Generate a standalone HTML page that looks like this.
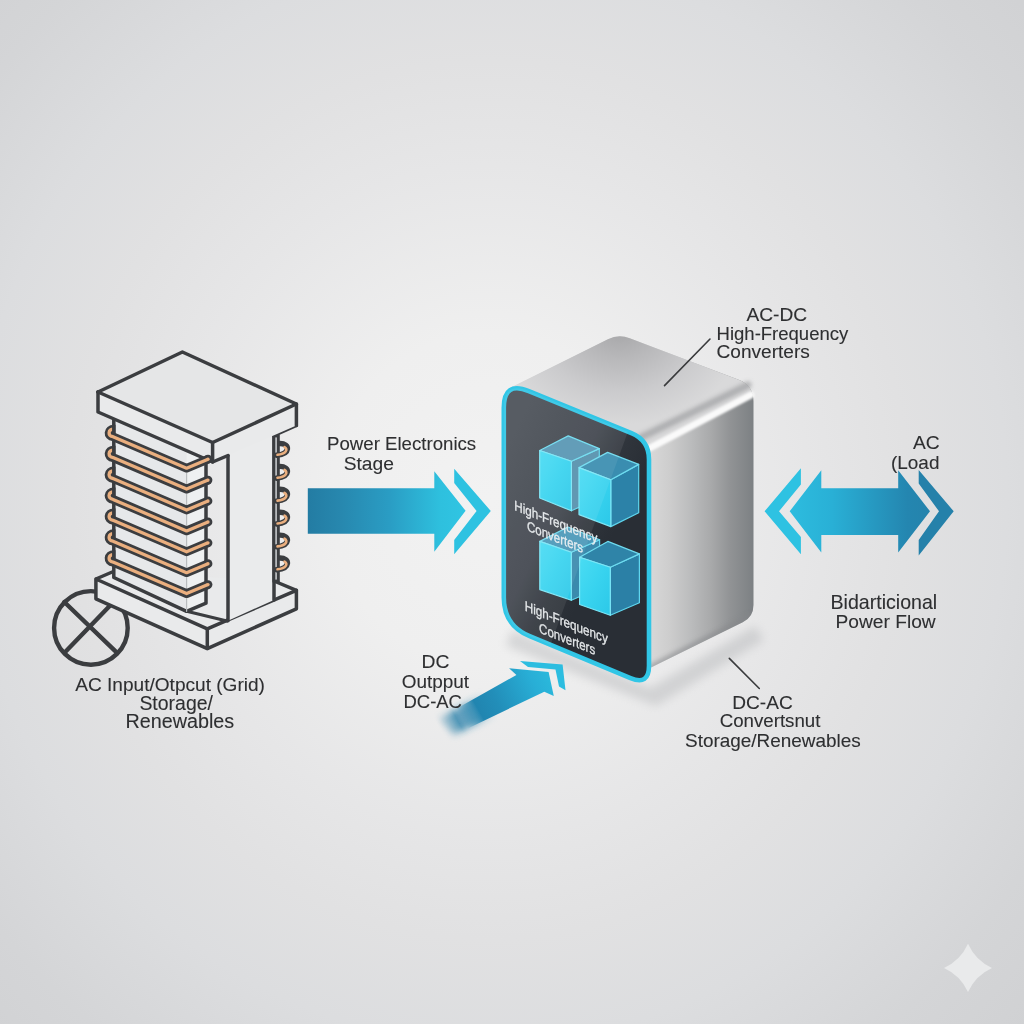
<!DOCTYPE html>
<html><head><meta charset="utf-8"><title>Power Electronics Diagram</title>
<style>html,body{margin:0;padding:0;background:#e2e3e4;}svg{display:block;will-change:transform;}text{font-family:"Liberation Sans",sans-serif;}</style>
</head><body>
<svg width="1024" height="1024" viewBox="0 0 1024 1024"><defs>
<radialGradient id="bg" gradientUnits="userSpaceOnUse" cx="490" cy="500" r="760" gradientTransform="translate(490 500) scale(1 1.05) translate(-490 -500)">
<stop offset="0" stop-color="#f2f2f2"/><stop offset="0.21" stop-color="#efefef"/><stop offset="0.42" stop-color="#e6e6e7"/><stop offset="0.55" stop-color="#e1e1e2"/><stop offset="0.68" stop-color="#dcdddf"/><stop offset="0.84" stop-color="#d4d5d7"/><stop offset="1" stop-color="#cfd0d2"/></radialGradient>
<linearGradient id="ar1" x1="0" y1="0" x2="1" y2="0"><stop offset="0" stop-color="#237ca3"/><stop offset="0.2" stop-color="#2787ae"/><stop offset="0.52" stop-color="#2a9dc4"/><stop offset="0.84" stop-color="#2ec0de"/><stop offset="1" stop-color="#30c5e3"/></linearGradient>
<linearGradient id="ar2" gradientUnits="userSpaceOnUse" x1="765" y1="0" x2="955" y2="0"><stop offset="0" stop-color="#2fc4e4"/><stop offset="0.35" stop-color="#29b0d6"/><stop offset="0.75" stop-color="#2486b0"/><stop offset="1" stop-color="#2580a8"/></linearGradient>
<linearGradient id="ar3" gradientUnits="userSpaceOnUse" x1="450" y1="725" x2="555" y2="675"><stop offset="0" stop-color="#1f77a2"/><stop offset="0.45" stop-color="#228eb9"/><stop offset="0.8" stop-color="#28aed6"/><stop offset="1" stop-color="#2bbbdd"/></linearGradient>
<linearGradient id="tailfade" gradientUnits="userSpaceOnUse" x1="440" y1="730" x2="490" y2="702"><stop offset="0" stop-color="#fff" stop-opacity="0"/><stop offset="0.35" stop-color="#fff" stop-opacity="0.75"/><stop offset="0.6" stop-color="#fff" stop-opacity="0.6"/><stop offset="1" stop-color="#fff" stop-opacity="0"/></linearGradient>
<mask id="tailmask"><rect x="0" y="0" width="1024" height="1024" fill="url(#tailfade)"/></mask>
<linearGradient id="tailfade2" gradientUnits="userSpaceOnUse" x1="462" y1="718" x2="478" y2="709"><stop offset="0" stop-color="#fff" stop-opacity="0"/><stop offset="1" stop-color="#fff" stop-opacity="1"/></linearGradient>
<mask id="tailmask2"><rect x="0" y="0" width="1024" height="1024" fill="url(#tailfade2)"/></mask>
<radialGradient id="topface" gradientUnits="userSpaceOnUse" cx="620" cy="330" r="95" gradientTransform="translate(620 330) scale(1.3 1) translate(-620 -330)"><stop offset="0" stop-color="#a6a6a8"/><stop offset="0.3" stop-color="#b8b8ba"/><stop offset="0.65" stop-color="#cbcbcd"/><stop offset="1" stop-color="#d9d9da"/></radialGradient>
<linearGradient id="rightface" gradientUnits="userSpaceOnUse" x1="650" y1="0" x2="754" y2="0"><stop offset="0" stop-color="#d8d8d8"/><stop offset="0.19" stop-color="#cdcdcd"/><stop offset="0.38" stop-color="#bcbdbe"/><stop offset="0.58" stop-color="#a9aaab"/><stop offset="0.77" stop-color="#919395"/><stop offset="1" stop-color="#7c8083"/></linearGradient>
<linearGradient id="frontdark" gradientUnits="userSpaceOnUse" x1="520" y1="420" x2="640" y2="480"><stop offset="0" stop-color="#4a4f57"/><stop offset="0.55" stop-color="#40454d"/><stop offset="0.78" stop-color="#30353c"/><stop offset="1" stop-color="#292e35"/></linearGradient>
<linearGradient id="cubefront" x1="0" y1="0" x2="1" y2="1"><stop offset="0" stop-color="#4adcf3"/><stop offset="0.5" stop-color="#38d3ef"/><stop offset="1" stop-color="#2cc8e8"/></linearGradient>
<filter id="blurh" x="-20%" y="-20%" width="140%" height="140%"><feGaussianBlur stdDeviation="0.7"/></filter>
<filter id="blur1" x="-20%" y="-20%" width="140%" height="140%"><feGaussianBlur stdDeviation="1.3"/></filter>
<filter id="blur3" x="-20%" y="-20%" width="140%" height="140%"><feGaussianBlur stdDeviation="3.5"/></filter>
<filter id="blur5" x="-20%" y="-30%" width="140%" height="160%"><feGaussianBlur stdDeviation="5"/></filter>
<filter id="blur2" x="-20%" y="-20%" width="140%" height="140%"><feGaussianBlur stdDeviation="2"/></filter>
<filter id="blur6" x="-30%" y="-30%" width="160%" height="160%"><feGaussianBlur stdDeviation="8"/></filter>
</defs>
<rect width="1024" height="1024" fill="url(#bg)"/>
<g><circle cx="90.9" cy="627.9" r="36.8" fill="none" stroke="#3b3d40" stroke-width="4.4"/><line x1="64.3" y1="602" x2="115.3" y2="651.2" stroke="#3b3d40" stroke-width="4.4" stroke-linecap="round"/><line x1="111.8" y1="603.7" x2="65.2" y2="652" stroke="#3b3d40" stroke-width="4.4" stroke-linecap="round"/><polygon points="95.9,579 113.4,571.5 274,581 296.4,590.3 296.4,608.8 207.3,648.6 95.9,598.8" fill="#e9eaeb" stroke="none" stroke-width="3.5" stroke-linejoin="round" /><polyline points="113.4,571.5 95.9,579 95.9,598.8 207.3,648.6 296.4,608.8 296.4,590.3 207.3,628.8 95.9,579" fill="none" stroke="#3b3d40" stroke-width="3.5" stroke-linejoin="round" stroke-linecap="round"/><line x1="207.3" y1="628.8" x2="207.3" y2="648.6" stroke="#3b3d40" stroke-width="3.5" stroke-linecap="round"/><line x1="274" y1="581" x2="296.4" y2="590.3" stroke="#3b3d40" stroke-width="3.5" stroke-linecap="round"/><polygon points="212.6,442.5 296.4,404 296.4,425.5 274,435.5 274,600 228,620.7 228,455.5" fill="#eaebec" stroke="none" stroke-width="3.5" stroke-linejoin="round" /><line x1="228" y1="455.5" x2="228" y2="620.7" stroke="#3b3d40" stroke-width="3.5" stroke-linecap="round"/><line x1="274" y1="435.5" x2="274" y2="600" stroke="#3b3d40" stroke-width="3.5" stroke-linecap="round"/><rect x="273.8" y="436" width="4.6" height="145" fill="#b6b8bb" stroke="#3b3d40" stroke-width="2.8"/><line x1="296.4" y1="425.5" x2="274" y2="435.5" stroke="#3b3d40" stroke-width="3.5" stroke-linecap="round"/><line x1="186.7" y1="611.3" x2="227" y2="621" stroke="#3b3d40" stroke-width="3.2" stroke-linecap="round"/><polygon points="113.8,418 186.6,451 186.6,611.3 113.8,577.5" fill="#e6e8ea" stroke="none" stroke-width="3.5" stroke-linejoin="round" /><polygon points="186.6,451 206,443 206,603.2 186.6,611.3" fill="#eef0f1" stroke="none" stroke-width="3.5" stroke-linejoin="round" /><polyline points="113.8,418 113.8,577.5 186.6,611.3 206,603.2 206,443" fill="none" stroke="#3b3d40" stroke-width="3.5" stroke-linejoin="round" stroke-linecap="round"/><line x1="186.6" y1="468" x2="186.6" y2="611.3" stroke="#b9bcbf" stroke-width="1.2" stroke-linecap="round"/><polygon points="98,392 182.4,352 296.4,404 296.4,425.5 212.6,462.0 98,412" fill="#e9eaeb" stroke="none" stroke-width="3.5" stroke-linejoin="round" /><polygon points="98,392 182.4,352 296.4,404 212.6,442.5" fill="#e5e6e7" stroke="none" stroke-width="3.5" stroke-linejoin="round" /><polyline points="98,392 182.4,352 296.4,404 296.4,425.5" fill="none" stroke="#3b3d40" stroke-width="3.5" stroke-linejoin="round" stroke-linecap="round"/><polyline points="98,392 98,412 212.6,462.0 228,455.5" fill="none" stroke="#3b3d40" stroke-width="3.5" stroke-linejoin="round" stroke-linecap="round"/><polyline points="98,392 212.6,442.5 296.4,404" fill="none" stroke="#3b3d40" stroke-width="3.5" stroke-linejoin="round" stroke-linecap="round"/><line x1="212.6" y1="442.5" x2="212.6" y2="462.0" stroke="#3b3d40" stroke-width="3.5" stroke-linecap="round"/><path d="M113.8,429.2 C107.8,429.2 107.5,436.2 113,436.7 L186.6,468.2 L208,459.2" fill="none" stroke="#3b3d40" stroke-width="8.8" stroke-linecap="butt" stroke-linejoin="round"/><circle cx="208" cy="459.2" r="4.4" fill="#3b3d40"/><path d="M113.8,429.2 C107.8,429.2 107.5,436.2 113,436.7 L186.6,468.2 L208,459.2" fill="none" stroke="#eaaf7f" stroke-width="3.3" stroke-linecap="butt" stroke-linejoin="round"/><circle cx="208" cy="459.2" r="1.65" fill="#eaaf7f"/><line x1="113.8" y1="424.8" x2="113.8" y2="433.59999999999997" stroke="#3b3d40" stroke-width="3.5" stroke-linecap="butt"/><path d="M113.8,450.1 C107.8,450.1 107.5,457.1 113,457.6 L186.6,489.1 L208,480.1" fill="none" stroke="#3b3d40" stroke-width="8.8" stroke-linecap="butt" stroke-linejoin="round"/><circle cx="208" cy="480.1" r="4.4" fill="#3b3d40"/><path d="M113.8,450.1 C107.8,450.1 107.5,457.1 113,457.6 L186.6,489.1 L208,480.1" fill="none" stroke="#eaaf7f" stroke-width="3.3" stroke-linecap="butt" stroke-linejoin="round"/><circle cx="208" cy="480.1" r="1.65" fill="#eaaf7f"/><line x1="113.8" y1="445.7" x2="113.8" y2="454.49999999999994" stroke="#3b3d40" stroke-width="3.5" stroke-linecap="butt"/><path d="M113.8,471.0 C107.8,471.0 107.5,478.0 113,478.5 L186.6,510.0 L208,501.0" fill="none" stroke="#3b3d40" stroke-width="8.8" stroke-linecap="butt" stroke-linejoin="round"/><circle cx="208" cy="501.0" r="4.4" fill="#3b3d40"/><path d="M113.8,471.0 C107.8,471.0 107.5,478.0 113,478.5 L186.6,510.0 L208,501.0" fill="none" stroke="#eaaf7f" stroke-width="3.3" stroke-linecap="butt" stroke-linejoin="round"/><circle cx="208" cy="501.0" r="1.65" fill="#eaaf7f"/><line x1="113.8" y1="466.6" x2="113.8" y2="475.4" stroke="#3b3d40" stroke-width="3.5" stroke-linecap="butt"/><path d="M113.8,491.9 C107.8,491.9 107.5,498.9 113,499.4 L186.6,530.9 L208,521.9" fill="none" stroke="#3b3d40" stroke-width="8.8" stroke-linecap="butt" stroke-linejoin="round"/><circle cx="208" cy="521.9" r="4.4" fill="#3b3d40"/><path d="M113.8,491.9 C107.8,491.9 107.5,498.9 113,499.4 L186.6,530.9 L208,521.9" fill="none" stroke="#eaaf7f" stroke-width="3.3" stroke-linecap="butt" stroke-linejoin="round"/><circle cx="208" cy="521.9" r="1.65" fill="#eaaf7f"/><line x1="113.8" y1="487.5" x2="113.8" y2="496.29999999999995" stroke="#3b3d40" stroke-width="3.5" stroke-linecap="butt"/><path d="M113.8,512.8 C107.8,512.8 107.5,519.8 113,520.3 L186.6,551.8 L208,542.8" fill="none" stroke="#3b3d40" stroke-width="8.8" stroke-linecap="butt" stroke-linejoin="round"/><circle cx="208" cy="542.8" r="4.4" fill="#3b3d40"/><path d="M113.8,512.8 C107.8,512.8 107.5,519.8 113,520.3 L186.6,551.8 L208,542.8" fill="none" stroke="#eaaf7f" stroke-width="3.3" stroke-linecap="butt" stroke-linejoin="round"/><circle cx="208" cy="542.8" r="1.65" fill="#eaaf7f"/><line x1="113.8" y1="508.4" x2="113.8" y2="517.1999999999999" stroke="#3b3d40" stroke-width="3.5" stroke-linecap="butt"/><path d="M113.8,533.7 C107.8,533.7 107.5,540.7 113,541.2 L186.6,572.7 L208,563.7" fill="none" stroke="#3b3d40" stroke-width="8.8" stroke-linecap="butt" stroke-linejoin="round"/><circle cx="208" cy="563.7" r="4.4" fill="#3b3d40"/><path d="M113.8,533.7 C107.8,533.7 107.5,540.7 113,541.2 L186.6,572.7 L208,563.7" fill="none" stroke="#eaaf7f" stroke-width="3.3" stroke-linecap="butt" stroke-linejoin="round"/><circle cx="208" cy="563.7" r="1.65" fill="#eaaf7f"/><line x1="113.8" y1="529.3000000000001" x2="113.8" y2="538.1" stroke="#3b3d40" stroke-width="3.5" stroke-linecap="butt"/><path d="M113.8,554.6 C107.8,554.6 107.5,561.6 113,562.1 L186.6,593.6 L208,584.6" fill="none" stroke="#3b3d40" stroke-width="8.8" stroke-linecap="butt" stroke-linejoin="round"/><circle cx="208" cy="584.6" r="4.4" fill="#3b3d40"/><path d="M113.8,554.6 C107.8,554.6 107.5,561.6 113,562.1 L186.6,593.6 L208,584.6" fill="none" stroke="#eaaf7f" stroke-width="3.3" stroke-linecap="butt" stroke-linejoin="round"/><circle cx="208" cy="584.6" r="1.65" fill="#eaaf7f"/><line x1="113.8" y1="550.2" x2="113.8" y2="559.0" stroke="#3b3d40" stroke-width="3.5" stroke-linecap="butt"/><path d="M280,443.5 C290,443.5 291,454.0 276.5,455.3" fill="none" stroke="#3b3d40" stroke-width="5.4" stroke-linecap="round"/><path d="M284.5,447.0 C288.5,449.5 286,454.0 277.5,454.8" fill="none" stroke="#eaaf7f" stroke-width="2.6" stroke-linecap="round"/><path d="M280,466.4 C290,466.4 291,476.9 276.5,478.2" fill="none" stroke="#3b3d40" stroke-width="5.4" stroke-linecap="round"/><path d="M284.5,469.9 C288.5,472.4 286,476.9 277.5,477.7" fill="none" stroke="#eaaf7f" stroke-width="2.6" stroke-linecap="round"/><path d="M280,489.3 C290,489.3 291,499.8 276.5,501.1" fill="none" stroke="#3b3d40" stroke-width="5.4" stroke-linecap="round"/><path d="M284.5,492.8 C288.5,495.3 286,499.8 277.5,500.6" fill="none" stroke="#eaaf7f" stroke-width="2.6" stroke-linecap="round"/><path d="M280,512.2 C290,512.2 291,522.7 276.5,524.0" fill="none" stroke="#3b3d40" stroke-width="5.4" stroke-linecap="round"/><path d="M284.5,515.7 C288.5,518.2 286,522.7 277.5,523.5" fill="none" stroke="#eaaf7f" stroke-width="2.6" stroke-linecap="round"/><path d="M280,535.1 C290,535.1 291,545.6 276.5,546.9" fill="none" stroke="#3b3d40" stroke-width="5.4" stroke-linecap="round"/><path d="M284.5,538.6 C288.5,541.1 286,545.6 277.5,546.4" fill="none" stroke="#eaaf7f" stroke-width="2.6" stroke-linecap="round"/><path d="M280,558.0 C290,558.0 291,568.5 276.5,569.8" fill="none" stroke="#3b3d40" stroke-width="5.4" stroke-linecap="round"/><path d="M284.5,561.5 C288.5,564.0 286,568.5 277.5,569.3" fill="none" stroke="#eaaf7f" stroke-width="2.6" stroke-linecap="round"/></g>
<path d="M512,630 L650,688 L755,626 L764,640 L656,706 L506,646 Z" fill="#9fa1a4" opacity="0.32" filter="url(#blur5)"/>
<path d="M307.8,488.3 L434.3,488.3 L434.3,471.2 L465.6,510.8 L434.3,551.8 L434.3,533.7 L307.8,533.7 Z" fill="url(#ar1)"/>
<path d="M454.2,468.8 L490.8,511 L454.2,554.2 L454.2,540 L476.6,511 L454.2,483 Z" fill="#2ec2e1"/>
<path d="M789.7,511.3 L821.3,470.3 L821.3,488.3 L898.2,488.3 L898.2,470.3 L930,511.3 L898.2,552.5 L898.2,535 L821.3,535 L821.3,552.5 Z" fill="url(#ar2)"/>
<path d="M800.9,468.3 L764.6,511.3 L800.9,554.3 L800.9,537 L779,511.3 L800.9,484.5 Z" fill="#2ec2e2"/>
<path d="M918.7,470 L953.7,511.3 L918.7,555.5 L918.7,540 L939,511.3 L918.7,483.5 Z" fill="#2581aa"/>
<g mask="url(#tailmask)"><path d="M509.1,668.3 L548.6,672 L553.8,696.1 L544.3,691.7 L452,736 L436,720.3 L516.4,674.9 Z" fill="url(#ar3)" filter="url(#blur3)"/></g>
<g mask="url(#tailmask2)"><path d="M509.1,668.3 L548.6,672 L553.8,696.1 L544.3,691.7 L452,736 L436,720.3 L516.4,674.9 Z" fill="url(#ar3)"/></g>
<path d="M520,661 L562.6,664.6 L565.5,690.3 L559,686.5 L555.5,669.5 L528,667 Z" fill="#2cbde0"/>
<path d="M509.0,388.5 Q509.0,388.5 509.0,388.5 L607.9,339.3 Q618.6,334.0 629.8,338.3 L738.6,379.8 Q753.5,385.5 753.5,401.5 L753.5,605.0 Q753.5,617.0 742.7,622.3 L652.6,666.7 Q649.0,668.5 648.5,664.5 L640.0,600.0 Q640.0,600.0 640.0,600.0 L600.0,420.0 Q600.0,420.0 600.0,420.0 Z" fill="url(#rightface)"/>
<clipPath id="silclip"><path d="M509.0,388.5 Q509.0,388.5 509.0,388.5 L607.9,339.3 Q618.6,334.0 629.8,338.3 L738.6,379.8 Q753.5,385.5 753.5,401.5 L753.5,605.0 Q753.5,617.0 742.7,622.3 L652.6,666.7 Q649.0,668.5 648.5,664.5 L640.0,600.0 Q640.0,600.0 640.0,600.0 L600.0,420.0 Q600.0,420.0 600.0,420.0 Z"/></clipPath>
<path d="M652,667 L750,617" stroke="#85878a" stroke-width="7" stroke-linecap="round" filter="url(#blur2)" opacity="0.55" clip-path="url(#silclip)"/>
<path d="M509.0,388.5 Q509.0,388.5 509.0,388.5 L607.9,339.3 Q618.6,334.0 629.8,338.3 L738.6,379.8 Q753.5,385.5 753.5,401.5 L753.5,394.0 Q753.5,394.0 753.5,394.0 L651.0,447.0 Q651.0,447.0 651.0,447.0 Z" fill="url(#topface)"/>
<path d="M640,438 L748,385" stroke="#a4a5a7" stroke-width="7" stroke-linecap="round" filter="url(#blur2)" opacity="0.8"/>
<path d="M649,448.5 L751,395" stroke="#fafafa" stroke-width="6.5" stroke-linecap="round" filter="url(#blur1)" opacity="1"/>
<path d="M503.8,407.8 Q503.8,380.8 528.8,391.1 L631.4,433.2 Q649.0,440.4 649.0,459.4 L649.0,665.8 Q649.0,685.8 630.5,678.1 L529.7,636.2 Q503.8,625.5 503.8,597.5 Z" fill="url(#frontdark)"/>
<path d="M503.8,407.8 Q503.8,380.8 528.8,391.1 L631.4,433.2 Q649.0,440.4 649.0,459.4 L649.0,665.8 Q649.0,685.8 630.5,678.1 L529.7,636.2 Q503.8,625.5 503.8,597.5 Z" fill="none" stroke="#31c6e6" stroke-width="4.6"/>
<polygon points="571.4,461.3 599.3,448.6 599.3,498 571.4,510.8" fill="#5590ac" stroke="#5fd6ee" stroke-width="1.2" stroke-linejoin="round"/>
<polygon points="539.7,450.5 568.2,435.9 599.3,448.6 571.4,461.3" fill="#5796b3" stroke="#6fdcf0" stroke-width="1.2" stroke-linejoin="round"/>
<polygon points="539.7,450.5 571.4,461.3 571.4,510.8 539.7,498" fill="url(#cubefront)" stroke="#7be6f6" stroke-width="1.2" stroke-linejoin="round"/>
<polygon points="610.8,479.7 638.7,464.4 638.7,512.7 610.8,526.6" fill="#2c82a8" stroke="#5fd6ee" stroke-width="1.2" stroke-linejoin="round"/>
<polygon points="579,467.6 607.6,452.4 638.7,464.4 610.8,479.7" fill="#3a8db0" stroke="#6fdcf0" stroke-width="1.2" stroke-linejoin="round"/>
<polygon points="579,467.6 610.8,479.7 610.8,526.6 579,514.6" fill="url(#cubefront)" stroke="#7be6f6" stroke-width="1.2" stroke-linejoin="round"/>
<polygon points="571.3,552.2 599.6,539.8 599.6,588 571.3,600.3" fill="#3a8aad" stroke="#5fd6ee" stroke-width="1.2" stroke-linejoin="round"/>
<polygon points="539.8,541.4 568,527 599.6,539.8 571.3,552.2" fill="#4a98b8" stroke="#6fdcf0" stroke-width="1.2" stroke-linejoin="round"/>
<polygon points="539.8,541.4 571.3,552.2 571.3,600.3 539.8,589.6" fill="url(#cubefront)" stroke="#7be6f6" stroke-width="1.2" stroke-linejoin="round"/>
<polygon points="610.3,567.2 639.4,553.9 639.4,602.8 610.3,615.3" fill="#2b80a6" stroke="#5fd6ee" stroke-width="1.2" stroke-linejoin="round"/>
<polygon points="579.6,557.2 607.8,541.4 639.4,553.9 610.3,567.2" fill="#2f84a8" stroke="#6fdcf0" stroke-width="1.2" stroke-linejoin="round"/>
<polygon points="579.6,557.2 610.3,567.2 610.3,615.3 579.6,604.5" fill="url(#cubefront)" stroke="#7be6f6" stroke-width="1.2" stroke-linejoin="round"/>
<clipPath id="panelclip"><path d="M503.8,407.8 Q503.8,380.8 528.8,391.1 L631.4,433.2 Q649.0,440.4 649.0,459.4 L649.0,665.8 Q649.0,685.8 630.5,678.1 L529.7,636.2 Q503.8,625.5 503.8,597.5 Z"/></clipPath>
<polygon points="495,370 630,426 545,660 495,650" fill="#ffffff" opacity="0.075" clip-path="url(#panelclip)"/>
<g opacity="0.95">
<text x="0" y="0" font-family="Liberation Sans, sans-serif" font-size="14" fill="#eef1f3" stroke="#eef1f3" stroke-width="0.3" transform="translate(514.2 510) skewY(21.8) scale(0.835 1)">High-Frequency</text>
<text x="0" y="0" font-family="Liberation Sans, sans-serif" font-size="14" fill="#eef1f3" stroke="#eef1f3" stroke-width="0.3" transform="translate(527 530.5) skewY(21.8) scale(0.82 1)">Converters</text>
<text x="0" y="0" font-family="Liberation Sans, sans-serif" font-size="14" fill="#eef1f3" stroke="#eef1f3" stroke-width="0.3" transform="translate(524.7 610.4) skewY(21.8) scale(0.835 1)">High-Frequency</text>
<text x="0" y="0" font-family="Liberation Sans, sans-serif" font-size="14" fill="#eef1f3" stroke="#eef1f3" stroke-width="0.3" transform="translate(539.1 632.5) skewY(21.8) scale(0.82 1)">Converters</text>
</g>
<line x1="710" y1="339" x2="664.5" y2="385.6" stroke="#3a3b3d" stroke-width="1.6" stroke-linecap="round"/>
<line x1="729.3" y1="658.4" x2="759.3" y2="688.5" stroke="#3a3b3d" stroke-width="1.6" stroke-linecap="round"/>
<text x="746.5" y="321.1" font-family="Liberation Sans, sans-serif" font-size="19.12" fill="#2e2f31" stroke="#2e2f31" stroke-width="0.1" text-anchor="start">AC-DC</text>
<text x="716.6" y="339.5" font-family="Liberation Sans, sans-serif" font-size="18.5" fill="#2e2f31" stroke="#2e2f31" stroke-width="0.1" text-anchor="start">High-Frequency</text>
<text x="716.6" y="358.4" font-family="Liberation Sans, sans-serif" font-size="19.07" fill="#2e2f31" stroke="#2e2f31" stroke-width="0.1" text-anchor="start">Converters</text>
<text x="327.0" y="449.6" font-family="Liberation Sans, sans-serif" font-size="18.65" fill="#2e2f31" stroke="#2e2f31" stroke-width="0.1" text-anchor="start">Power Electronics</text>
<text x="343.7" y="470" font-family="Liberation Sans, sans-serif" font-size="19.22" fill="#2e2f31" stroke="#2e2f31" stroke-width="0.1" text-anchor="start">Stage</text>
<text x="913.1" y="449.2" font-family="Liberation Sans, sans-serif" font-size="19.17" fill="#2e2f31" stroke="#2e2f31" stroke-width="0.1" text-anchor="start">AC</text>
<text x="891.0" y="469.1" font-family="Liberation Sans, sans-serif" font-size="18.96" fill="#2e2f31" stroke="#2e2f31" stroke-width="0.1" text-anchor="start">(Load</text>
<text x="830.5" y="608.5" font-family="Liberation Sans, sans-serif" font-size="19.58" fill="#2e2f31" stroke="#2e2f31" stroke-width="0.1" text-anchor="start">Bidarticional</text>
<text x="835.6" y="627.5" font-family="Liberation Sans, sans-serif" font-size="19.17" fill="#2e2f31" stroke="#2e2f31" stroke-width="0.1" text-anchor="start">Power Flow</text>
<text x="421.5" y="667.9" font-family="Liberation Sans, sans-serif" font-size="19.27" fill="#2e2f31" stroke="#2e2f31" stroke-width="0.1" text-anchor="start">DC</text>
<text x="401.7" y="687.6" font-family="Liberation Sans, sans-serif" font-size="18.96" fill="#2e2f31" stroke="#2e2f31" stroke-width="0.1" text-anchor="start">Outpput</text>
<text x="403.5" y="708.3" font-family="Liberation Sans, sans-serif" font-size="18.45" fill="#2e2f31" stroke="#2e2f31" stroke-width="0.1" text-anchor="start">DC-AC</text>
<text x="732.3" y="708.9" font-family="Liberation Sans, sans-serif" font-size="19.07" fill="#2e2f31" stroke="#2e2f31" stroke-width="0.1" text-anchor="start">DC-AC</text>
<text x="719.7" y="727.1" font-family="Liberation Sans, sans-serif" font-size="18.7" fill="#2e2f31" stroke="#2e2f31" stroke-width="0.1" text-anchor="start">Convertsnut</text>
<text x="685.0" y="746.6" font-family="Liberation Sans, sans-serif" font-size="18.96" fill="#2e2f31" stroke="#2e2f31" stroke-width="0.1" text-anchor="start">Storage/Renewables</text>
<text x="75.3" y="690.7" font-family="Liberation Sans, sans-serif" font-size="19.07" fill="#2e2f31" stroke="#2e2f31" stroke-width="0.1" text-anchor="start">AC Input/Otpcut (Grid)</text>
<text x="139.4" y="710" font-family="Liberation Sans, sans-serif" font-size="19.47" fill="#2e2f31" stroke="#2e2f31" stroke-width="0.1" text-anchor="start">Storage/</text>
<text x="125.4" y="728" font-family="Liberation Sans, sans-serif" font-size="19.77" fill="#2e2f31" stroke="#2e2f31" stroke-width="0.1" text-anchor="start">Renewables</text>
<path d="M968,943.8 Q975.5,960.5 992,968 Q975.5,975.5 968,992 Q960.5,975.5 944,968 Q960.5,960.5 968,943.8 Z" fill="#e9eaeb" filter="url(#blurh)"/></svg>
</body></html>
